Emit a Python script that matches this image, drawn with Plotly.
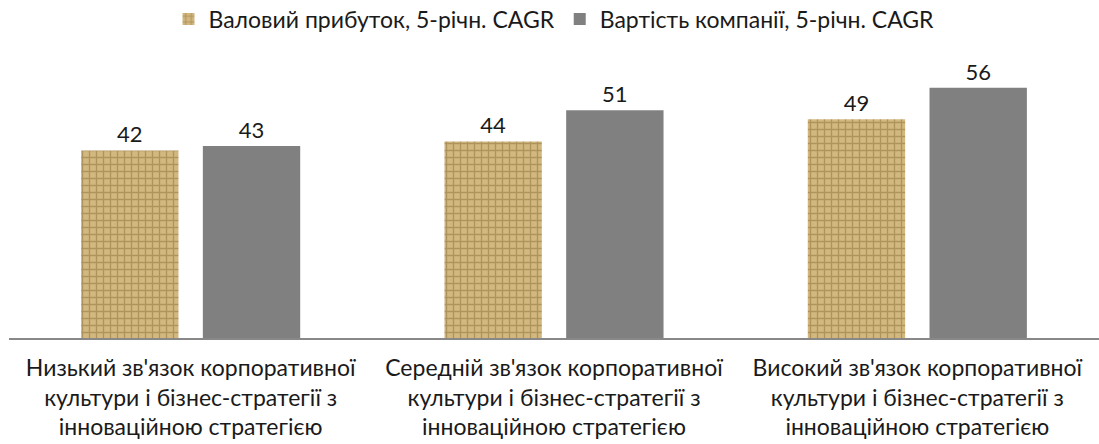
import plotly.graph_objects as go

categories = [
    "Низький зв'язок корпоративної<br>культури і бізнес-стратегії з<br>інноваційною стратегією",
    "Середній зв'язок корпоративної<br>культури і бізнес-стратегії з<br>інноваційною стратегією",
    "Високий зв'язок корпоративної<br>культури і бізнес-стратегії з<br>інноваційною стратегією",
]
gross_profit = [42, 44, 49]
company_value = [43, 51, 56]
series_names = ["Валовий прибуток, 5-річн. CAGR", "Вартість компанії, 5-річн. CAGR"]

FONT = "Lato"
TEXT = "#1a1a1a"

fig = go.Figure()
fig.add_trace(go.Bar(
    name=series_names[0],
    x=categories,
    y=gross_profit,
    text=gross_profit,
    textposition="outside",
    textfont=dict(size=22, color=TEXT, family=FONT),
    marker=dict(
        color="#c9ad72",
        line=dict(width=0),
        pattern=dict(shape="+", bgcolor="#d2b87e", fgcolor="#8c6d3c",
                     size=7, solidity=0.35, fillmode="overlay"),
    ),
))
fig.add_trace(go.Bar(
    name=series_names[1],
    x=categories,
    y=company_value,
    text=company_value,
    textposition="outside",
    textfont=dict(size=22, color=TEXT, family=FONT),
    marker=dict(color="#808080", line=dict(width=0)),
))

fig.update_layout(
    width=1099,
    height=444,
    margin=dict(l=9, r=0, t=70, b=106, autoexpand=False),
    paper_bgcolor="white",
    plot_bgcolor="white",
    barmode="group",
    bargap=0.33,
    bargroupgap=0.2,
    font=dict(family=FONT, size=22, color=TEXT),
    showlegend=True,
    legend=dict(
        orientation="h",
        x=0.5, xanchor="center",
        y=1.27, yanchor="top",
        font=dict(size=23, family=FONT, color=TEXT),
        itemwidth=30,
        traceorder="normal",
    ),
    xaxis=dict(
        showline=True,
        linecolor="#888888",
        linewidth=2,
        showgrid=False,
        ticks="",
        automargin=False,
        ticklabelstandoff=8,
        tickfont=dict(size=23, family=FONT, color=TEXT),
    ),
    yaxis=dict(
        range=[0, 60],
        visible=False,
        showgrid=False,
        automargin=False,
    ),
)
fig.update_traces(cliponaxis=False, textangle=0)

fig.write_html("out.html")
